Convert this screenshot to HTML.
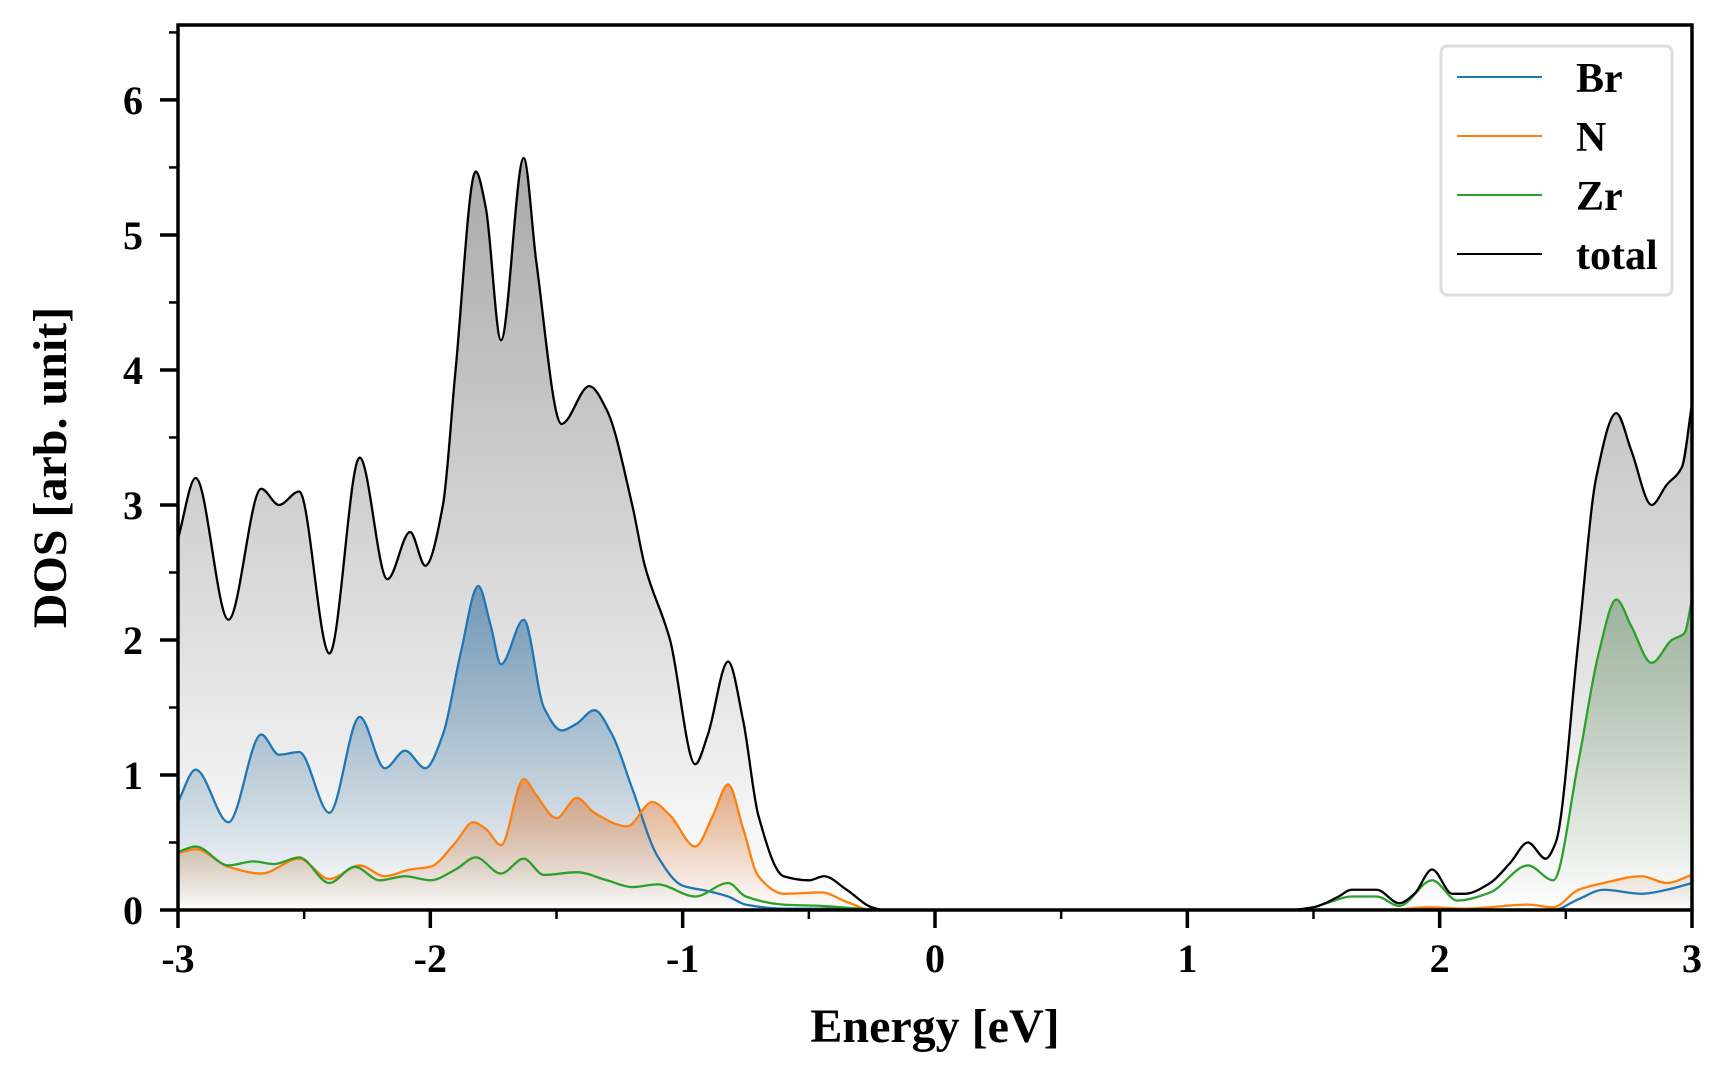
<!DOCTYPE html>
<html><head><meta charset="utf-8"><style>
html,body{margin:0;padding:0;background:#fff}
svg{display:block}
text{font-family:"Liberation Serif",serif;font-weight:bold}
</style></head><body>
<svg id="chart" width="1728" height="1080" xmlns="http://www.w3.org/2000/svg">
<defs id="defs"></defs>
<g id="fills"></g>
<g id="lines"></g>
<g id="axes"></g>
</svg>
<script>
const totalE=[-3,-2.93,-2.8,-2.67,-2.6,-2.52,-2.4,-2.28,-2.17,-2.08,-2.02,-1.95,-1.9,-1.82,-1.78,-1.72,-1.63,-1.58,-1.48,-1.37,-1.3,-1.2,-1.15,-1.05,-0.95,-0.9,-0.82,-0.76,-0.7,-0.6,-0.5,-0.44,-0.35,-0.25,-0.2,1.4,1.5,1.6,1.65,1.75,1.84,1.9,1.97,2.05,2.1,2.2,2.28,2.35,2.42,2.46,2.55,2.62,2.7,2.76,2.84,2.9,2.96,3.0];
const totalV=[2.75,3.2,2.15,3.12,3.0,3.1,1.9,3.35,2.45,2.8,2.55,3.0,4.0,5.47,5.2,4.22,5.57,4.8,3.6,3.88,3.7,3.0,2.55,2.0,1.08,1.3,1.84,1.4,0.7,0.25,0.22,0.25,0.15,0.02,0,0,0.02,0.1,0.15,0.15,0.05,0.12,0.3,0.12,0.12,0.2,0.35,0.5,0.38,0.5,2.0,3.2,3.68,3.4,3.0,3.15,3.28,3.75];
const brE=[-3,-2.93,-2.8,-2.67,-2.6,-2.52,-2.4,-2.28,-2.18,-2.1,-2.02,-1.95,-1.88,-1.81,-1.76,-1.72,-1.63,-1.55,-1.48,-1.42,-1.35,-1.28,-1.2,-1.1,-1.0,-0.9,-0.82,-0.75,-0.6,-0.4,-0.25,2.45,2.55,2.65,2.8,2.9,3.0];
const brV=[0.8,1.04,0.65,1.3,1.15,1.17,0.72,1.43,1.05,1.18,1.05,1.3,1.9,2.4,2.1,1.82,2.15,1.5,1.33,1.38,1.48,1.3,0.9,0.4,0.18,0.14,0.1,0.04,0.01,0.01,0,0,0.08,0.15,0.12,0.15,0.2];
const nE=[-3,-2.93,-2.8,-2.67,-2.52,-2.4,-2.28,-2.18,-2.08,-2.0,-1.9,-1.83,-1.78,-1.72,-1.63,-1.58,-1.5,-1.42,-1.35,-1.22,-1.12,-1.05,-0.95,-0.88,-0.82,-0.76,-0.7,-0.6,-0.45,-0.35,-0.25,1.8,1.95,2.1,2.35,2.45,2.55,2.65,2.8,2.9,3.0];
const nV=[0.42,0.45,0.32,0.27,0.38,0.23,0.33,0.25,0.3,0.32,0.5,0.65,0.6,0.48,0.97,0.85,0.68,0.83,0.72,0.62,0.8,0.7,0.47,0.7,0.93,0.6,0.25,0.12,0.13,0.06,0,0,0.02,0.01,0.04,0.02,0.15,0.2,0.25,0.2,0.26];
const zrE=[-3,-2.93,-2.8,-2.7,-2.62,-2.52,-2.4,-2.3,-2.2,-2.1,-2.0,-1.9,-1.82,-1.72,-1.63,-1.55,-1.42,-1.3,-1.2,-1.1,-0.95,-0.82,-0.75,-0.6,-0.45,-0.3,-0.2,1.45,1.55,1.65,1.75,1.84,1.97,2.07,2.2,2.35,2.45,2.55,2.63,2.7,2.76,2.84,2.92,2.97,3.0];
const zrV=[0.43,0.47,0.33,0.36,0.34,0.39,0.2,0.32,0.22,0.25,0.22,0.3,0.39,0.27,0.38,0.26,0.28,0.22,0.17,0.19,0.1,0.2,0.1,0.04,0.03,0.01,0,0,0.05,0.1,0.1,0.03,0.22,0.07,0.13,0.33,0.22,1.1,1.9,2.3,2.1,1.83,2.0,2.05,2.3];
const xTicks=[-3,-2,-1,0,1,2,3];
const xTickLabels=["-3","-2","-1","0","1","2","3"];
const yTicks=[0,1,2,3,4,5,6];
const yTickLabels=["0","1","2","3","4","5","6"];
const legendLabels=["Br","N","Zr","total"];

const L=178,R=1692,T=25,B=910,XMIN=-3,XMAX=3,YMAX=6.555;
const xs=v=>L+(v-XMIN)/(XMAX-XMIN)*(R-L);
const ys=v=>B-v/YMAX*(B-T);
const NS="http://www.w3.org/2000/svg";
function mk(tag,attrs,parent){const e=document.createElementNS(NS,tag);for(const k in attrs)e.setAttribute(k,attrs[k]);parent.appendChild(e);return e;}
// monotone cubic (Fritsch-Carlson)
function pathD(E,V){
  const X=E.map(xs),Y=V.map(ys),n=X.length;
  const d=[],m=new Array(n);
  for(let i=0;i<n-1;i++)d.push((Y[i+1]-Y[i])/(X[i+1]-X[i]));
  m[0]=d[0];m[n-1]=d[n-2];
  for(let i=1;i<n-1;i++){
    if(d[i-1]*d[i]<=0)m[i]=0;
    else{const h0=X[i]-X[i-1],h1=X[i+1]-X[i];const w1=2*h1+h0,w2=h1+2*h0;m[i]=(w1+w2)/(w1/d[i-1]+w2/d[i]);}
  }
  let s="M"+X[0]+","+Y[0];
  for(let i=0;i<n-1;i++){
    const h=(X[i+1]-X[i])/3;
    s+=" C"+(X[i]+h)+","+(Y[i]+m[i]*h)+" "+(X[i+1]-h)+","+(Y[i+1]-m[i+1]*h)+" "+X[i+1]+","+Y[i+1];
  }
  return s;
}
const defs=document.getElementById('defs'),fills=document.getElementById('fills'),lines=document.getElementById('lines'),axes=document.getElementById('axes');
const series=[
 {name:"total",E:totalE,V:totalV,c:"#000000",f:"#8c8c8c",top:5.6,o:0.75},
 {name:"br",E:brE,V:brV,c:"#1f77b4",f:"#4a7fa8",top:2.4,o:0.72},
 {name:"n",E:nE,V:nV,c:"#ff7f0e",f:"#d9844a",top:1.0,o:0.7},
 {name:"zr",E:zrE,V:zrV,c:"#2ca02c",f:"#5f8a5f",top:2.3,o:0.5}
];
series.forEach(s=>{
  const g=mk('linearGradient',{id:'g'+s.name,gradientUnits:'userSpaceOnUse',x1:0,x2:0,y1:ys(s.top),y2:B},defs);
  mk('stop',{offset:0,'stop-color':s.f,'stop-opacity':s.o},g);
  mk('stop',{offset:1,'stop-color':s.f,'stop-opacity':0.0},g);
  const d=pathD(s.E,s.V);
  const fa=mk('path',{d:d+" L"+xs(s.E[s.E.length-1])+","+B+" L"+xs(s.E[0])+","+B+" Z",fill:'url(#g'+s.name+')'},fills);
  
  
});
[1,2,3,0].forEach(i=>{const s=series[i];
  const ln=mk('path',{d:pathD(s.E,s.V),fill:'none',stroke:s.c,'stroke-width':2.3,'stroke-linejoin':'round'},lines);
  
  
});
const fr=mk('rect',{x:L,y:T,width:R-L,height:B-T,fill:'none',stroke:'#000','stroke-width':3.5},axes);


xTicks.forEach((t,i)=>{
  const tk=mk('line',{x1:xs(t),x2:xs(t),y1:B,y2:B+18,stroke:'#000','stroke-width':3.5},axes);
  
  
  const lb=mk('text',{x:xs(t),y:972,'text-anchor':'middle','font-size':40},axes);lb.textContent=xTickLabels[i];
  
  
  if(i<xTicks.length-1){const m=mk('line',{x1:xs(t+0.5),x2:xs(t+0.5),y1:B,y2:B+9,stroke:'#000','stroke-width':2.5},axes);
  
  }
});
yTicks.forEach((t,i)=>{
  const tk=mk('line',{x1:L-18,x2:L,y1:ys(t),y2:ys(t),stroke:'#000','stroke-width':3.5},axes);
  
  
  const lb=mk('text',{x:143,y:ys(t)+14,'text-anchor':'end','font-size':40},axes);lb.textContent=yTickLabels[i];
  
  
  const m=mk('line',{x1:L-9,x2:L,y1:ys(t+0.5),y2:ys(t+0.5),stroke:'#000','stroke-width':2.5},axes);
  
  
});
const xl=mk('text',{x:935,y:1042,'text-anchor':'middle','font-size':48},axes);xl.textContent="Energy [eV]";


const yl=mk('text',{x:0,y:0,'text-anchor':'middle','font-size':48,transform:'translate(66,'+((T+B)/2)+') rotate(-90)'},axes);yl.textContent="DOS [arb. unit]";


const lg=mk('g',{},axes);


mk('rect',{x:1441,y:46,width:231,height:249,rx:6,fill:'#fff','fill-opacity':0.9,stroke:'#dddddd','stroke-width':3},lg);
const lc=["#1f77b4","#ff7f0e","#2ca02c","#000000"];
legendLabels.forEach((n,i)=>{
  const y=77+i*59;
  const e=mk('g',{},lg);
  
  
  mk('line',{x1:1457,x2:1542,y1:y,y2:y,stroke:lc[i],'stroke-width':2},e);
  const t=mk('text',{x:1576,y:y+15,'font-size':42},e);t.textContent=n;
});
</script>
</body></html>
